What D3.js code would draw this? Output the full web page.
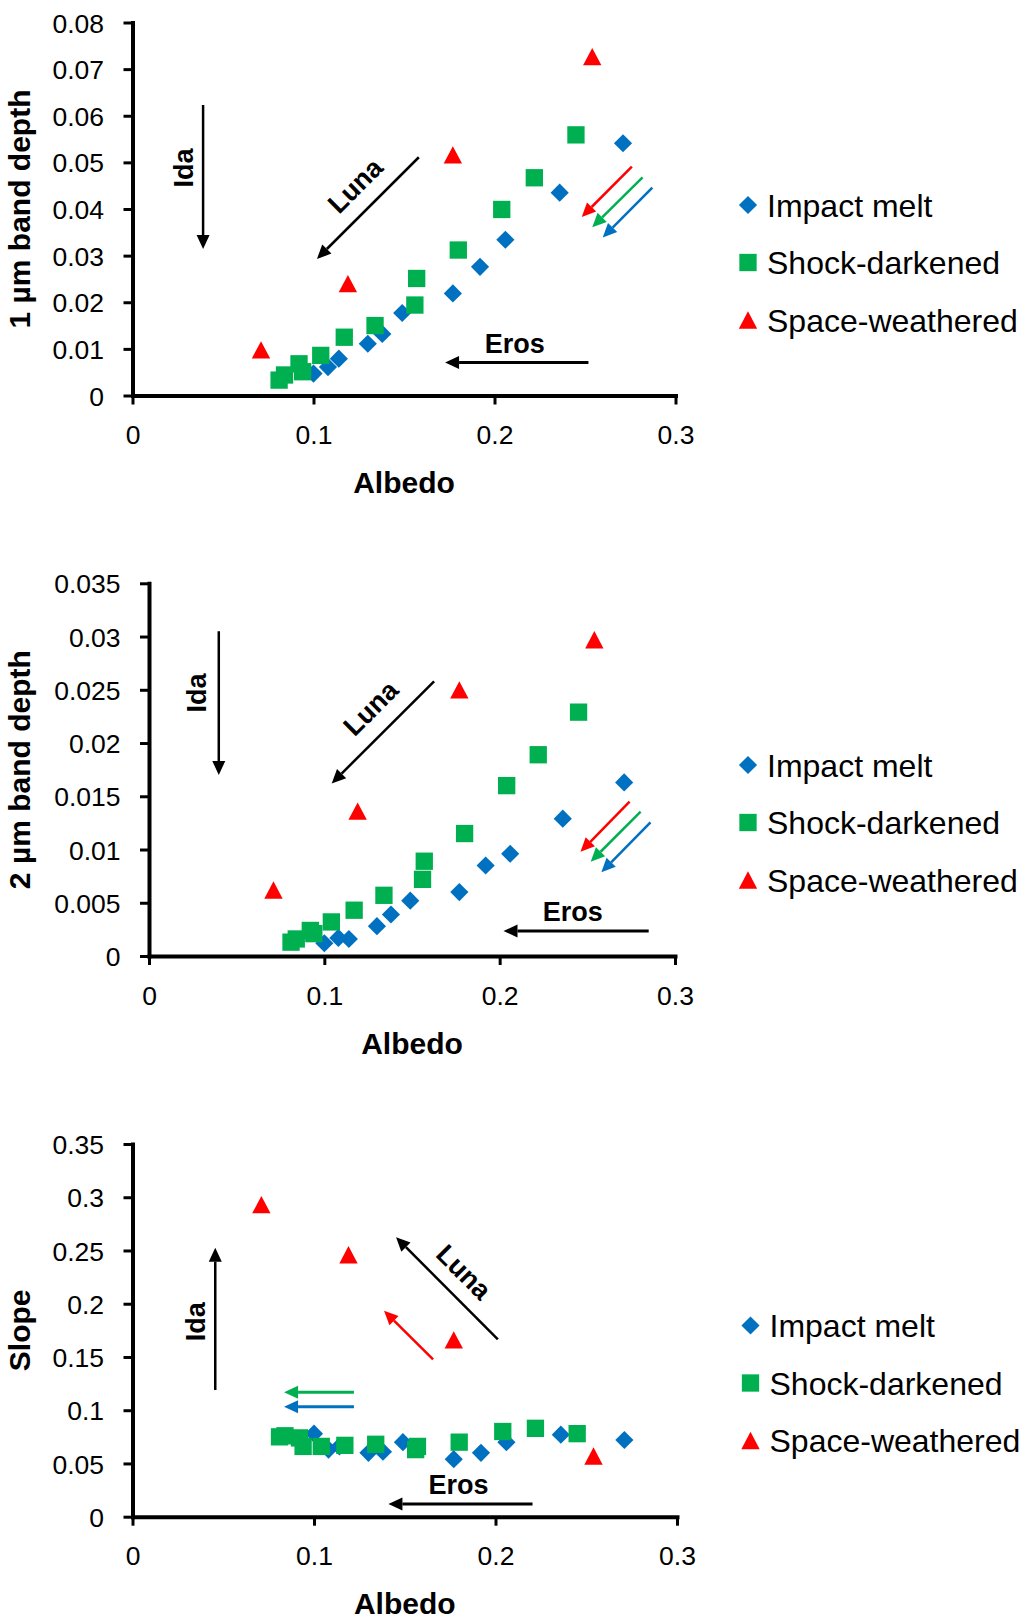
<!DOCTYPE html>
<html>
<head>
<meta charset="utf-8">
<script src="https://cdn.jsdelivr.net/npm/d3@7/dist/d3.min.js"></script>
<style>
  body { margin: 0; background: #fff; }
  svg { display: block; }
</style>
</head>
<body>
<svg id="chart" width="1022" height="1619"></svg>
<script>
// ---- data ----
const albedoMelt = [0.100, 0.108, 0.114, 0.130, 0.138, 0.149, 0.177, 0.192, 0.206, 0.236, 0.271];
const band1Melt  = [0.0047, 0.0061, 0.0079, 0.0111, 0.0132, 0.0177, 0.0219, 0.0276, 0.0334, 0.0435, 0.0541];
const band2Melt  = [0.0012, 0.0017, 0.0016, 0.0028, 0.0039, 0.0052, 0.0060, 0.0085, 0.0096, 0.0129, 0.0163];
const slopeMelt  = [0.078, 0.063, 0.066, 0.060, 0.061, 0.070, 0.054, 0.060, 0.070, 0.077, 0.072];

const albedoShock = [0.081, 0.084, 0.092, 0.094, 0.104, 0.117, 0.134, 0.156, 0.157, 0.180, 0.204, 0.222, 0.245];
const band1Shock  = [0.0033, 0.0044, 0.0068, 0.0051, 0.0086, 0.0125, 0.0150, 0.0194, 0.0251, 0.0312, 0.0399, 0.0467, 0.0559];
const band2Shock  = [0.0013, 0.0016, 0.0024, 0.0021, 0.0032, 0.0043, 0.0057, 0.0072, 0.0089, 0.0115, 0.0160, 0.0189, 0.0229];
const slopeShock  = [0.075, 0.076, 0.074, 0.066, 0.066, 0.067, 0.068, 0.063, 0.066, 0.070, 0.080, 0.083, 0.078];

const albedoWeathered = [0.071, 0.119, 0.177, 0.254];
const band1Weathered  = [0.0098, 0.0240, 0.0516, 0.0727];
const band2Weathered  = [0.0062, 0.0136, 0.0250, 0.0297];
const slopeWeathered  = [0.293, 0.246, 0.166, 0.057];

const seriesNames = ["Impact melt", "Shock-darkened", "Space-weathered"];
const xTicks = [0, 0.1, 0.2, 0.3];
const band1Ticks = [0, 0.01, 0.02, 0.03, 0.04, 0.05, 0.06, 0.07, 0.08];
const band2Ticks = [0, 0.005, 0.01, 0.015, 0.02, 0.025, 0.03, 0.035];
const slopeTicks = [0, 0.05, 0.1, 0.15, 0.2, 0.25, 0.3, 0.35];

const BLUE = "#0070C0", GREEN = "#00B050", RED = "#FF0000";
const FONT = "'Liberation Sans', Arial, sans-serif";

// excel-like marker shapes
const diamondType = {
	draw(ctx, size) {
		const r = Math.sqrt(size) / 2;
		ctx.moveTo(0, -r); ctx.lineTo(r, 0); ctx.lineTo(0, r); ctx.lineTo(-r, 0); ctx.closePath();
	}
};
const triangleType = {
	draw(ctx, size) {
		const r = Math.sqrt(size) / 2;
		ctx.moveTo(0, -r); ctx.lineTo(r * 1.06, r); ctx.lineTo(-r * 1.06, r); ctx.closePath();
	}
};
const markerStyles = [
	{ type: diamondType, size: 330, color: BLUE },
	{ type: d3.symbolSquare, size: 300, color: GREEN },
	{ type: triangleType, size: 300, color: RED }
];

const svg = d3.select("#chart");
svg.append("rect").attr("width", 1022).attr("height", 1619).attr("fill", "#fff");

const panels = [
	{
		box: { left: 132.5, right: 675.5, top: 22.5, bottom: 395.5 },
		yMax: 0.08, yTicks: band1Ticks, yTitle: "1 µm band depth",
		series: [[albedoMelt, band1Melt], [albedoShock, band1Shock], [albedoWeathered, band1Weathered]],
		legend: { x: 748, y: 205 },
		arrows: [
			{ x1: 0.039, y1: 0.0623, x2: 0.039, y2: 0.0314, color: "#000", w: 2.5 },
			{ x1: 0.1582, y1: 0.0511, x2: 0.1019, y2: 0.0293, color: "#000", w: 2.5 },
			{ x1: 0.2519, y1: 0.0071, x2: 0.1727, y2: 0.0071, color: "#000", w: 3 },
			{ x1: 0.2759, y1: 0.0491, x2: 0.2482, y2: 0.0383, color: RED, w: 2.5 },
			{ x1: 0.2818, y1: 0.0468, x2: 0.2540, y2: 0.0361, color: GREEN, w: 2.5 },
			{ x1: 0.2872, y1: 0.0446, x2: 0.2598, y2: 0.0339, color: BLUE, w: 2.5 }
		],
		labels: [
			{ text: "Ida", x: 0.0279, y: 0.0488, rot: -90 },
			{ text: "Luna", x: 0.1229, y: 0.0451, rot: -45 },
			{ text: "Eros", x: 0.2112, y: 0.0113, rot: 0 }
		]
	},
	{
		box: { left: 149, right: 675, top: 583.3, bottom: 956 },
		yMax: 0.035, yTicks: band2Ticks, yTitle: "2 µm band depth",
		series: [[albedoMelt, band2Melt], [albedoShock, band2Shock], [albedoWeathered, band2Weathered]],
		legend: { x: 748, y: 765 },
		arrows: [
			{ x1: 0.0398, y1: 0.0305, x2: 0.0398, y2: 0.0170, color: "#000", w: 2.5 },
			{ x1: 0.1626, y1: 0.0258, x2: 0.1042, y2: 0.0162, color: "#000", w: 2.5 },
			{ x1: 0.2850, y1: 0.00235, x2: 0.2022, y2: 0.00235, color: "#000", w: 3 },
			{ x1: 0.2741, y1: 0.01449, x2: 0.2461, y2: 0.00979, color: RED, w: 2.5 },
			{ x1: 0.2804, y1: 0.01355, x2: 0.2519, y2: 0.00886, color: GREEN, w: 2.5 },
			{ x1: 0.2860, y1: 0.01256, x2: 0.2580, y2: 0.00786, color: BLUE, w: 2.5 }
		],
		labels: [
			{ text: "Ida", x: 0.0270, y: 0.0247, rot: -90 },
			{ text: "Luna", x: 0.1263, y: 0.0233, rot: -45 },
			{ text: "Eros", x: 0.2417, y: 0.0042, rot: 0 }
		]
	},
	{
		box: { left: 132.5, right: 677, top: 1144, bottom: 1516.7 },
		yMax: 0.35, yTicks: slopeTicks, yTitle: "Slope",
		series: [[albedoMelt, slopeMelt], [albedoShock, slopeShock], [albedoWeathered, slopeWeathered]],
		legend: { x: 750.5, y: 1325.5 },
		arrows: [
			{ x1: 0.0456, y1: 0.119, x2: 0.0456, y2: 0.2526, color: "#000", w: 2.5 },
			{ x1: 0.2013, y1: 0.1666, x2: 0.1452, y2: 0.2624, color: "#000", w: 2.5 },
			{ x1: 0.2204, y1: 0.0119, x2: 0.1410, y2: 0.0119, color: "#000", w: 3 },
			{ x1: 0.1656, y1: 0.1478, x2: 0.1386, y2: 0.1934, color: RED, w: 2.5 },
			{ x1: 0.1220, y1: 0.1168, x2: 0.0835, y2: 0.1168, color: GREEN, w: 3 },
			{ x1: 0.1220, y1: 0.1033, x2: 0.0835, y2: 0.1033, color: BLUE, w: 3 }
		],
		labels: [
			{ text: "Ida", x: 0.0344, y: 0.1831, rot: -90 },
			{ text: "Luna", x: 0.1828, y: 0.2301, rot: 45 },
			{ text: "Eros", x: 0.1796, y: 0.0304, rot: 0 }
		]
	}
];

const fmt = d => d === 0 ? "0" : String(+d.toFixed(3));

panels.forEach(p => drawPanel(p));

function drawPanel(p) {
	const b = p.box;
	const x = d3.scaleLinear().domain([0, 0.3]).range([b.left, b.right]);
	const y = d3.scaleLinear().domain([0, p.yMax]).range([b.bottom, b.top]);
	const g = svg.append("g");

	// axes
	const yAxis = g.append("g")
		.attr("transform", `translate(${b.left},0)`)
		.call(d3.axisLeft(y).tickValues(p.yTicks).tickFormat(fmt).tickSize(9).tickSizeOuter(0).tickPadding(19.5));
	const xAxis = g.append("g")
		.attr("transform", `translate(0,${b.bottom})`)
		.call(d3.axisBottom(x).tickValues(xTicks).tickFormat(fmt).tickSize(9).tickSizeOuter(0));

	[yAxis, xAxis].forEach(a => {
		a.select(".domain").attr("stroke", "#000").attr("stroke-width", 4).attr("stroke-linecap", "square");
		a.selectAll(".tick line").attr("stroke", "#000").attr("stroke-width", 3);
		a.selectAll(".tick text").attr("fill", "#000")
			.style("font-family", FONT).style("font-size", "26.5px");
	});
	yAxis.selectAll(".tick text").attr("dy", "0.36em");
	xAxis.selectAll(".tick text").attr("y", 48.5).attr("dy", null);

	// axis titles
	g.append("text")
		.attr("x", (b.left + b.right) / 2)
		.attr("y", b.bottom + 97.5)
		.attr("text-anchor", "middle")
		.style("font-family", FONT).style("font-size", "30px").style("font-weight", "bold")
		.text("Albedo");
	g.append("text")
		.attr("transform", `translate(30,${(b.top + b.bottom) / 2}) rotate(-90)`)
		.attr("text-anchor", "middle")
		.style("font-family", FONT).style("font-size", "30px").style("font-weight", "bold")
		.text(p.yTitle);

	// points: melt, then shock, then weathered on top
	p.series.forEach(([xs, ys], i) => {
		const m = markerStyles[i];
		const pts = xs.map((v, k) => [v, ys[k]]);
		g.append("g").selectAll("path")
			.data(pts)
			.join("path")
			.attr("transform", d => `translate(${x(d[0])},${y(d[1])})`)
			.attr("d", d3.symbol().type(m.type).size(m.size))
			.attr("fill", m.color);
	});

	// annotation arrows
	p.arrows.forEach(a => {
		const x1 = x(a.x1), y1 = y(a.y1), x2 = x(a.x2), y2 = y(a.y2);
		const ang = Math.atan2(y2 - y1, x2 - x1);
		const hl = 14, hw = 6.5;
		const bx = x2 - hl * Math.cos(ang), by = y2 - hl * Math.sin(ang);
		g.append("line")
			.attr("x1", x1).attr("y1", y1).attr("x2", bx).attr("y2", by)
			.attr("stroke", a.color).attr("stroke-width", a.w);
		const px = -Math.sin(ang) * hw, py = Math.cos(ang) * hw;
		g.append("path")
			.attr("d", `M${x2},${y2}L${bx + px},${by + py}L${bx - px},${by - py}Z`)
			.attr("fill", a.color);
	});

	p.labels.forEach(l => {
		g.append("text")
			.attr("transform", `translate(${x(l.x)},${y(l.y)}) rotate(${l.rot})`)
			.attr("text-anchor", "middle")
			.attr("dy", "0.36em")
			.style("font-family", FONT).style("font-size", "27px").style("font-weight", "bold")
			.text(l.text);
	});

	// legend
	const leg = g.append("g");
	seriesNames.forEach((name, i) => {
		const m = markerStyles[i];
		const ly = p.legend.y + i * 57.5;
		leg.append("path")
			.attr("transform", `translate(${p.legend.x},${ly})`)
			.attr("d", d3.symbol().type(m.type).size(m.size))
			.attr("fill", m.color);
		leg.append("text")
			.attr("x", p.legend.x + 19)
			.attr("y", ly + 11.5)
			.style("font-family", FONT).style("font-size", "32px")
			.text(name);
	});
}
</script>
</body>
</html>
